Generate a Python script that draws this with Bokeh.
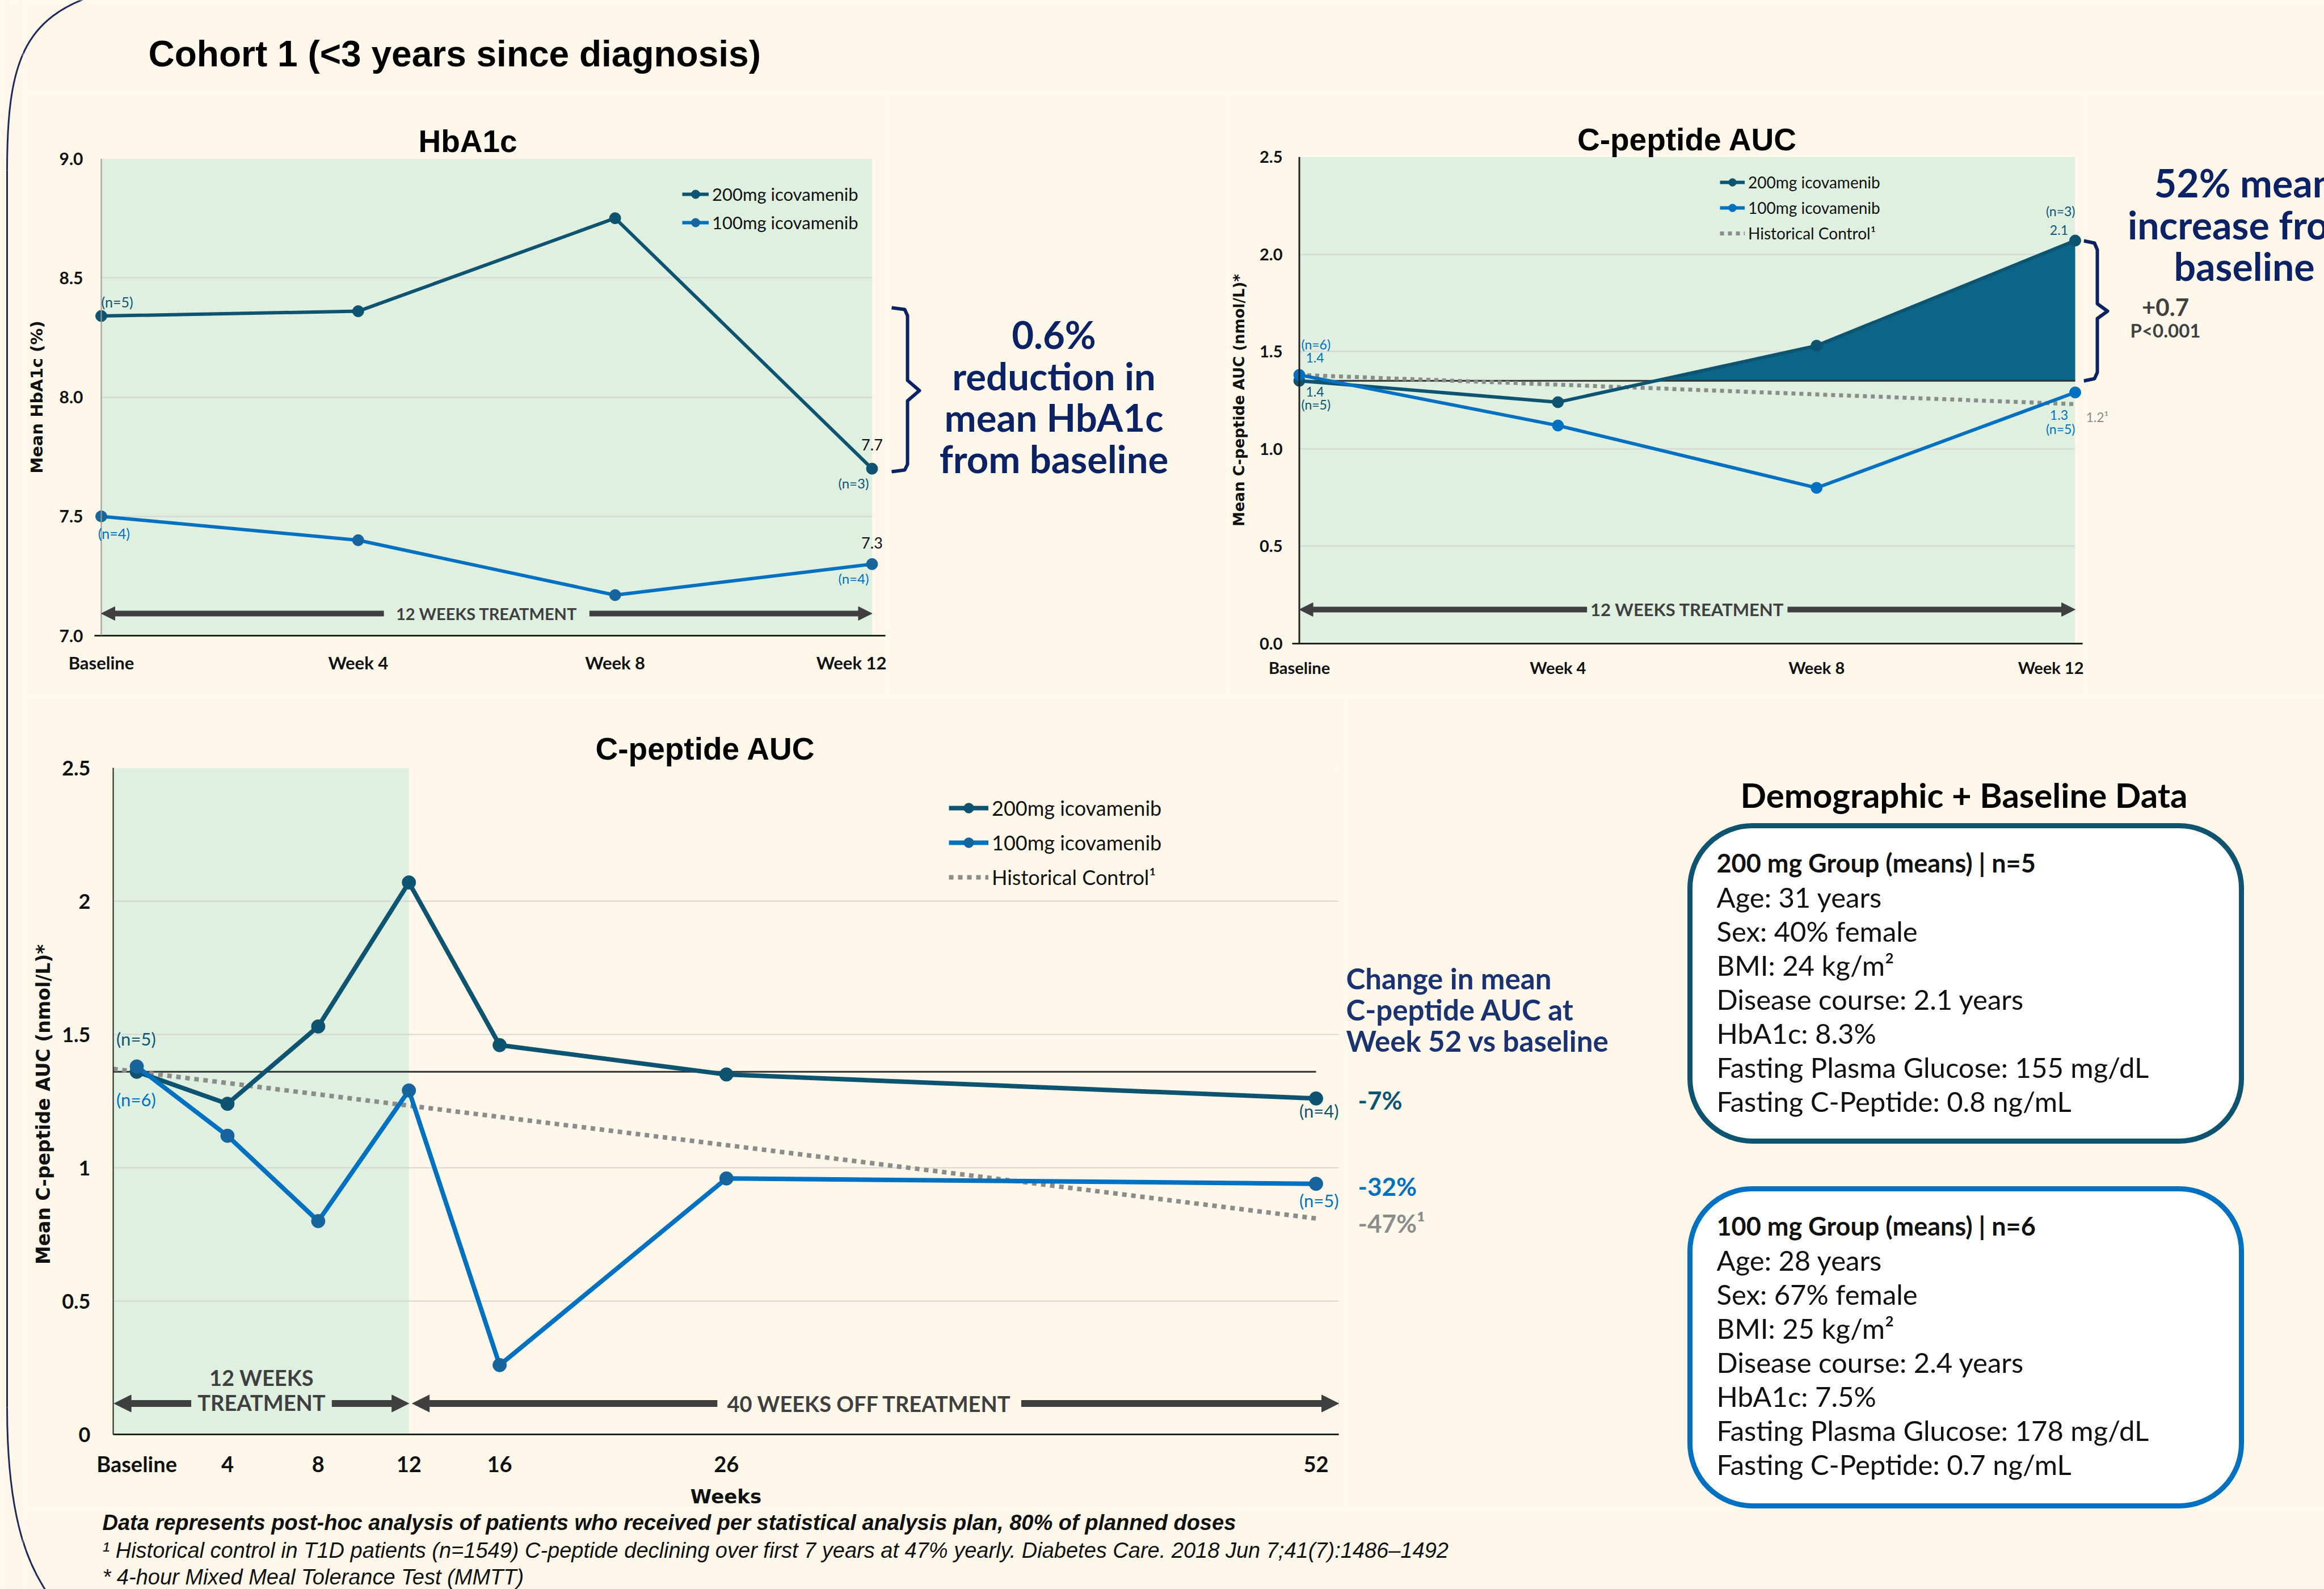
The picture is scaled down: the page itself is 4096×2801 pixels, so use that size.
import numpy as np
from bokeh.plotting import figure
from bokeh.layouts import row, column
from bokeh.models import (Range1d, FixedTicker, Legend, LegendItem, Label, Arrow, NormalHead,
                          BoxAnnotation, Span, NumeralTickFormatter)
from bokeh.core.properties import value
from bokeh.embed import file_html
from bokeh.resources import INLINE

# ---------------- data ----------------
weeks_12 = [0, 4, 8, 12]
week12_tick_labels = ["Baseline", "Week 4", "Week 8", "Week 12"]
hba1c_200 = [8.34, 8.36, 8.75, 7.70]
hba1c_100 = [7.50, 7.40, 7.17, 7.30]
hba1c_ticks = [7.0, 7.5, 8.0, 8.5, 9.0]

cpep12_200 = [1.35, 1.24, 1.53, 2.07]
cpep12_100 = [1.38, 1.12, 0.80, 1.29]
hist12_weeks = [0, 12]
hist12_vals = [1.38, 1.23]
cpep12_baseline = 1.35
cpep_ticks = [0.0, 0.5, 1.0, 1.5, 2.0, 2.5]

weeks_52 = [0, 4, 8, 12, 16, 26, 52]
week52_tick_labels = ["Baseline", "4", "8", "12", "16", "26", "52"]
cpep52_200 = [1.36, 1.24, 1.53, 2.07, 1.46, 1.35, 1.26]
cpep52_100 = [1.38, 1.12, 0.80, 1.29, 0.26, 0.96, 0.94]
hist52_weeks = [0, 52]
hist52_vals = [1.36, 0.81]
cpep52_baseline = 1.36
treatment_end = 12

series_names = ["200mg icovamenib", "100mg icovamenib", "Historical Control\u00b9"]

demo_200 = ["200 mg Group (means) | n=5", "Age: 31 years", "Sex: 40% female", "BMI: 24 kg/m\u00b2",
            "Disease course: 2.1 years", "HbA1c: 8.3%", "Fasting Plasma Glucose: 155 mg/dL",
            "Fasting C-Peptide: 0.8 ng/mL"]
demo_100 = ["100 mg Group (means)  | n=6", "Age: 28 years", "Sex: 67% female", "BMI: 25 kg/m\u00b2",
            "Disease course: 2.4 years", "HbA1c: 7.5%", "Fasting Plasma Glucose: 178 mg/dL",
            "Fasting C-Peptide: 0.7 ng/mL"]
footnotes = ["Data represents post-hoc analysis of patients who received per statistical analysis plan, 80% of planned doses",
             "\u00b9 Historical control in T1D patients (n=1549) C-peptide declining over first 7 years at 47% yearly. Diabetes Care. 2018 Jun 7;41(7):1486\u20131492",
             "* 4-hour Mixed Meal Tolerance Test (MMTT)"]

# ---------------- styles ----------------
CREAM = "#FFF8EA"
GREEN = "#DFF0E1"
TEAL = "#0E5470"
BLUE = "#0070C0"
BLUE_MK = "#17659C"
FILL = "#0B6589"
NAVY = "#0B2265"
NAVY2 = "#1B3270"
GRAYL = "#8C8C8C"
BAR = "#3F3F3F"
GRID = "#D6D6D6"
BORDER = "#1E2A5C"
TXT = "#111111"
FONT = "Lato"
FONT_T = "Liberation Sans"


def canvas(x0, x1, y0, y1):
    p = figure(width=x1 - x0, height=y1 - y0, x_range=Range1d(x0, x1), y_range=Range1d(y1, y0),
               x_axis_location=None, y_axis_location=None, toolbar_location=None,
               output_backend="svg", min_border=0, background_fill_color=CREAM,
               border_fill_color=CREAM, outline_line_color=None)
    p.grid.visible = False
    return p


def chart(x0, x1, y0, y1, fl, fr, ft, fb, xr, yr):
    p = figure(width=x1 - x0, height=y1 - y0, x_range=Range1d(*xr), y_range=Range1d(*yr),
               min_border_left=fl - x0, min_border_right=x1 - fr, min_border_top=ft - y0,
               min_border_bottom=y1 - fb, toolbar_location=None, output_backend="svg",
               background_fill_color=CREAM, border_fill_color=CREAM, outline_line_color=None)
    return p


def txt(p, x, y, s, size, color=TXT, font=FONT, style="bold", align="left", baseline="middle"):
    p.text(x=[x], y=[y], text=[s], text_font=value(font), text_font_size=f"{size}px",
           text_font_style=style, text_color=color, text_align=align, text_baseline=baseline)


def lbl(p, x, y, s, size, color, align="left", style="normal", font=FONT):
    p.add_layout(Label(x=x, y=y, text=s, text_font=font, text_font_size=f"{size}px",
                       text_color=color, text_align=align, text_baseline="middle",
                       text_font_style=style))


def border(p):
    p.bezier(x0=[12], y0=[300], x1=[175], y1=[-12], cx0=[12], cy0=[110], cx1=[40], cy1=[30],
             line_color=BORDER, line_width=3)
    p.line([12, 12], [300, 2480], line_color=BORDER, line_width=3)
    p.bezier(x0=[12], y0=[2480], x1=[100], y1=[2830], cx0=[12], cy0=[2680], cx1=[50], cy1=[2770],
             line_color=BORDER, line_width=3)


def style_axes(p, xticks, xlabels, xfs, xstand, yticks, yfmt, yfs, ystand, ylab, ylab_fs, ylab_stand,
               xlab=None, xlab_fs=30, xlab_stand=10, yline=None):
    xa = p.xaxis[0]
    ya = p.yaxis[0]
    xa.ticker = FixedTicker(ticks=xticks)
    xa.major_label_overrides = dict(zip(xticks, xlabels))
    ya.ticker = FixedTicker(ticks=yticks)
    ya.formatter = NumeralTickFormatter(format=yfmt)
    for ax in (xa, ya):
        ax.major_tick_line_color = None
        ax.minor_tick_line_color = None
        ax.major_label_text_font = FONT
        ax.major_label_text_font_style = "bold"
        ax.major_label_text_color = TXT
        ax.axis_label_text_font = "DejaVu Sans"
        ax.axis_label_text_font_style = "bold"
        ax.axis_label_text_color = TXT
    xa.major_label_text_font_size = f"{xfs}px"
    ya.major_label_text_font_size = f"{yfs}px"
    xa.major_label_standoff = xstand
    ya.major_label_standoff = ystand
    xa.axis_line_color = "#222222"
    xa.axis_line_width = 3
    ya.axis_line_color = yline
    ya.axis_line_width = 2
    ya.axis_label = ylab
    ya.axis_label_text_font_size = f"{ylab_fs}px"
    ya.axis_label_standoff = ylab_stand
    if xlab:
        xa.axis_label = xlab
        xa.axis_label_text_font_size = f"{xlab_fs}px"
        xa.axis_label_standoff = xlab_stand
    p.xgrid.grid_line_color = None
    p.ygrid.grid_line_color = GRID
    p.ygrid.grid_line_width = 2
    p.ygrid.ticker = FixedTicker(ticks=yticks)


def treat_arrow(p, x_from, x_to, y, lw, head):
    p.add_layout(Arrow(end=NormalHead(size=head, fill_color=BAR, line_color=BAR, line_width=1),
                       x_start=x_from, y_start=y, x_end=x_to, y_end=y,
                       line_color=BAR, line_width=lw))


def set_title(p, text, size, align, offset, standoff):
    p.title.text = text
    p.title.text_font = FONT_T
    p.title.text_font_size = f"{size}px"
    p.title.text_font_style = "bold"
    p.title.text_color = "#000000"
    p.title.align = align
    p.title.offset = offset
    p.title.standoff = standoff


def make_legend(p, items, loc, fs, gw, gh, spacing):
    leg = Legend(items=[LegendItem(label=n, renderers=r) for n, r in items], location=loc,
                 label_text_font=FONT, label_text_font_size=f"{fs}px", label_text_color=TXT,
                 glyph_width=gw, glyph_height=gh, label_height=gh, label_standoff=6,
                 spacing=spacing, padding=0, margin=0, border_line_color=None,
                 background_fill_alpha=0)
    p.add_layout(leg)


def green_zone(p, left, right, strips=True):
    p.add_layout(BoxAnnotation(left=left, right=right, fill_color=GREEN, fill_alpha=1,
                               line_alpha=0, level="image"))
    if strips:
        p.add_layout(BoxAnnotation(right=left, fill_color=CREAM, fill_alpha=1, line_alpha=0,
                                   level="underlay"))
        p.add_layout(BoxAnnotation(left=right, fill_color=CREAM, fill_alpha=1, line_alpha=0,
                                   level="underlay"))


# ---------------- left strip + header ----------------
LS = canvas(0, 40, 0, 2801)
border(LS)

HD = canvas(40, 4096, 0, 160)
border(HD)
txt(HD, 261, 94, "Cohort 1 (<3 years since diagnosis)", 64, "#000000", FONT_T)

# ---------------- A: HbA1c ----------------
A = chart(40, 1562, 160, 1230, 166, 1560, 279, 1120, (-0.106, 12.208), (7.0, 9.0))
green_zone(A, weeks_12[0], treatment_end)
style_axes(A, weeks_12, week12_tick_labels, 31, 22, hba1c_ticks, "0.0", 30, 14,
           "Mean HbA1c (%)", 29, 20)
A.add_layout(Span(location=0, dimension="height", line_color="#9A9A9A", line_width=2))
set_title(A, "HbA1c", 55, "left", 571, 0)
a200 = A.line(weeks_12, hba1c_200, line_color=TEAL, line_width=6)
a200s = A.scatter(weeks_12, hba1c_200, size=20, fill_color=TEAL, line_color=TEAL)
a100 = A.line(weeks_12, hba1c_100, line_color=BLUE, line_width=6)
a100s = A.scatter(weeks_12, hba1c_100, size=20, fill_color=BLUE_MK, line_color=BLUE_MK)
make_legend(A, [(series_names[0], [a200, a200s]), (series_names[1], [a100, a100s])],
            (1036, 709), 31, 47, 38, 12)
lbl(A, 0.0, 8.40, "(n=5)", 25, TEAL)
lbl(A, -0.05, 7.43, "(n=4)", 25, BLUE)
lbl(A, 12, 7.80, "7.7", 27, TXT, "center")
lbl(A, 11.95, 7.64, "(n=3)", 24, TEAL, "right")
lbl(A, 12, 7.39, "7.3", 27, TXT, "center")
lbl(A, 11.95, 7.24, "(n=4)", 24, BLUE, "right")
treat_arrow(A, 4.4, 0.0, 7.093, 10, 24)
treat_arrow(A, 7.6, 12.0, 7.093, 10, 24)
lbl(A, 6.0, 7.093, "12 WEEKS TREATMENT", 29, BAR, "center", "bold")

# ---------------- B: HbA1c annotation ----------------
B = canvas(1562, 2165, 160, 1230)
B.line([1571, 1594, 1599, 1599, 1620, 1599, 1599, 1594, 1571],
       [542, 545, 556, 670, 688, 706, 818, 828, 831],
       line_color=NAVY, line_width=6, line_join="round")
for i, s in enumerate(["0.6%", "reduction in", "mean HbA1c", "from baseline"]):
    txt(B, 1857, 588 + 73 * i, s, 67, NAVY, align="center")

# ---------------- C: C-peptide 12 weeks ----------------
C = chart(2165, 3672, 160, 1230, 2271, 3670, 276, 1134, (-0.110, 12.114), (0.0, 2.5))
green_zone(C, weeks_12[0], treatment_end)
style_axes(C, weeks_12, week12_tick_labels, 29, 18, cpep_ticks, "0.0", 29, 11,
           "Mean C-peptide AUC (nmol/L)*", 26, 18)
C.add_layout(Span(location=0, dimension="height", line_color="#222222", line_width=3))
set_title(C, "C-peptide AUC", 55, "center", 0, 0)
w = np.array(weeks_12, dtype=float)
v = np.array(cpep12_200, dtype=float)
j = max(i for i in range(len(v) - 1) if v[i] <= cpep12_baseline)
xc = w[j] + (cpep12_baseline - v[j]) * (w[j + 1] - w[j]) / (v[j + 1] - v[j])
C.patch([xc] + list(w[j + 1:]) + [w[-1]],
        [cpep12_baseline] + list(v[j + 1:]) + [cpep12_baseline],
        fill_color=FILL, line_color=None)
C.line([weeks_12[0], weeks_12[-1]], [cpep12_baseline, cpep12_baseline], line_color="#333333", line_width=3)
c_h = C.line(hist12_weeks, hist12_vals, line_color=GRAYL, line_width=7, line_dash="7 7")
c200 = C.line(weeks_12, cpep12_200, line_color=TEAL, line_width=6)
c200s = C.scatter(weeks_12, cpep12_200, size=20, fill_color=TEAL, line_color=TEAL)
c100 = C.line(weeks_12, cpep12_100, line_color=BLUE, line_width=6)
c100s = C.scatter(weeks_12, cpep12_100, size=20, fill_color=BLUE, line_color=BLUE)
make_legend(C, [(series_names[0], [c200, c200s]), (series_names[1], [c100, c100s]),
                (series_names[2], [c_h])], (754, 706), 28, 44, 34, 11)
lbl(C, 0.03, 1.538, "(n=6)", 23, BLUE)
lbl(C, 0.10, 1.469, "1.4", 23, BLUE)
lbl(C, 0.10, 1.294, "1.4", 23, TEAL)
lbl(C, 0.03, 1.227, "(n=5)", 23, TEAL)
lbl(C, 12.0, 2.223, "(n=3)", 23, TEAL, "right")
lbl(C, 11.89, 2.124, "2.1", 23, TEAL, "right")
lbl(C, 11.89, 1.174, "1.3", 23, BLUE, "right")
lbl(C, 12.0, 1.104, "(n=5)", 23, BLUE, "right")
treat_arrow(C, 4.45, 0.0, 0.175, 10, 24)
treat_arrow(C, 7.55, 12.0, 0.175, 10, 24)
lbl(C, 6.0, 0.175, "12 WEEKS TREATMENT", 31, BAR, "center", "bold")

# ---------------- D: C-peptide annotation ----------------
D = canvas(3672, 4096, 160, 1230)
D.line([3672, 3691, 3696, 3696, 3714, 3696, 3696, 3691, 3672],
       [424, 428, 440, 535, 548, 561, 656, 667, 671],
       line_color=NAVY, line_width=6, line_join="round")
txt(D, 3676, 734, "1.2\u00b9", 23, GRAYL, style="normal")
for i, s in enumerate(["52% mean", "increase from", "baseline"]):
    txt(D, 3955, 321 + 73.5 * i, s, 68, NAVY, align="center")
txt(D, 3816, 541, "+0.7", 42, "#404040", align="center")
txt(D, 3816, 581, "P<0.001", 33, "#404040", align="center")

# ---------------- E: C-peptide 52 weeks ----------------
E = chart(40, 2368, 1230, 2660, 199, 2359, 1353, 2536, (-1.04, 53.0), (0.0, 2.5))
green_zone(E, -1.04, treatment_end, strips=False)
style_axes(E, weeks_52, week52_tick_labels, 38, 22, cpep_ticks, "0.[0]", 36, 34,
           "Mean C-peptide AUC  (nmol/L)*", 33, 10, xlab="Weeks", xlab_fs=34, xlab_stand=12,
           yline="#222222")
set_title(E, "C-peptide AUC", 55, "left", 850, 5)
x_start = E.x_range.start
E.line([x_start, weeks_52[-1]], [cpep52_baseline, cpep52_baseline], line_color="#333333", line_width=3)
slope = (hist52_vals[-1] - hist52_vals[0]) / (hist52_weeks[-1] - hist52_weeks[0])
e_h = E.line([x_start] + hist52_weeks,
             [hist52_vals[0] + slope * (x_start - hist52_weeks[0])] + hist52_vals,
             line_color=GRAYL, line_width=8, line_dash="8 8")
e200 = E.line(weeks_52, cpep52_200, line_color=TEAL, line_width=8)
e200s = E.scatter(weeks_52, cpep52_200, size=24, fill_color=TEAL, line_color=TEAL)
e100 = E.line(weeks_52, cpep52_100, line_color=BLUE, line_width=8)
e100s = E.scatter(weeks_52, cpep52_100, size=24, fill_color=BLUE_MK, line_color=BLUE_MK)
make_legend(E, [(series_names[0], [e200, e200s]), (series_names[1], [e100, e100s]),
                (series_names[2], [e_h])], (1473, 960), 36, 70, 44, 17)
lbl(E, -0.9, 1.484, "(n=5)", 31, TEAL)
lbl(E, -0.9, 1.257, "(n=6)", 31, BLUE)
lbl(E, 53.0, 1.213, "(n=4)", 31, TEAL, "right")
lbl(E, 53.0, 0.877, "(n=5)", 31, BLUE, "right")
treat_arrow(E, 2.4, -1.0, 0.116, 12, 30)
treat_arrow(E, 8.6, 12.0, 0.116, 12, 30)
lbl(E, 5.5, 0.213, "12 WEEKS", 38, BAR, "center", "bold")
lbl(E, 5.5, 0.120, "TREATMENT", 38, BAR, "center", "bold")
treat_arrow(E, 25.6, 12.15, 0.116, 12, 30)
treat_arrow(E, 39.0, 53.0, 0.116, 12, 30)
lbl(E, 32.3, 0.116, "40 WEEKS OFF TREATMENT", 38, BAR, "center", "bold")

# ---------------- F: right annotations + demographics ----------------
F = canvas(2368, 4096, 1230, 2660)
for i, s in enumerate(["Change in mean", "C-peptide AUC at", "Week 52 vs baseline"]):
    txt(F, 2372, 1724 + 55 * i, s, 51, NAVY2)
txt(F, 2393, 1938, "-7%", 44, TEAL)
txt(F, 2393, 2090, "-32%", 44, BLUE)
txt(F, 2393, 2155, "-47%\u00b9", 44, GRAYL)
txt(F, 3461, 1400, "Demographic + Baseline Data", 60, "#000000", align="center")
for (top, bot, col, lines) in [(1455, 2011, TEAL, demo_200), (2095, 2654, BLUE, demo_100)]:
    F.add_layout(BoxAnnotation(left=2978, right=3950, top=top, bottom=bot, fill_color="white",
                               fill_alpha=1, line_color=col, line_alpha=1, line_width=9,
                               border_radius=110, level="underlay"))
    for i, s in enumerate(lines):
        txt(F, 3025, top + 65 + 60.1 * i, s, 45 if i == 0 else 49, TXT,
            style="bold" if i == 0 else "normal")

# ---------------- G: footnotes ----------------
G = canvas(40, 4096, 2660, 2801)
border(G)
txt(G, 180, 2683, footnotes[0], 38, TXT, FONT_T, "bold italic")
txt(G, 180, 2732, footnotes[1], 38, TXT, FONT_T, "italic")
txt(G, 180, 2779, footnotes[2], 38, TXT, FONT_T, "italic")

root = row(LS, column(HD,
                      row(column(A), column(B), column(C), column(D)),
                      row(column(E), column(F)),
                      G))
open("out.html", "w").write(file_html(root, INLINE))
